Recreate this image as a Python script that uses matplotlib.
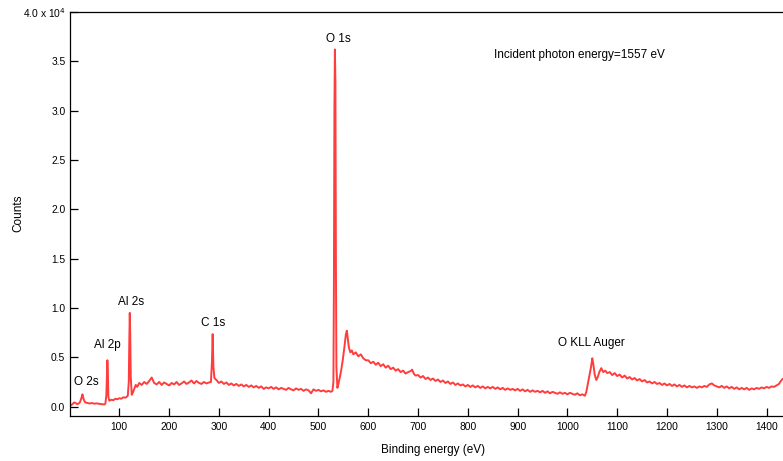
"""
XPS survey spectrum (photon energy 1557 eV): counts vs binding energy,
with the main core levels and the O KLL Auger feature labelled.
"""

import matplotlib.pyplot as plt

plt.rcParams["font.family"] = ["Liberation Sans", "DejaVu Sans"]

LINE_COLOR = "#ff3d3d"

# ---- spectrum, read off the picture region by region -----------------------
# low binding energy: O 2s, Al 2p, Al 2s
low_ev = [0, 3, 6, 9, 12, 15, 18, 21, 24, 26, 28, 31, 35, 40, 45, 50, 55, 60,
          65, 70, 72, 74, 76, 77, 78, 80, 84, 88, 92, 96, 100, 104, 108, 112,
          115, 117, 119, 120, 121, 122, 123, 125, 127, 130, 133, 136, 140, 145,
          150]
low_counts = [50, 150, 250, 420, 380, 260, 300, 450, 900, 1250, 800, 450, 380,
              320, 360, 300, 330, 280, 250, 220, 300, 1200, 4700, 3500, 1000,
              600, 700, 650, 800, 750, 850, 800, 950, 900, 1000, 1100, 2500,
              6500, 9500, 7000, 3000, 1200, 1400, 1800, 2200, 2000, 2400, 2200,
              2500]

# plateau with C 1s
mid_ev = [155, 160, 165, 170, 175, 180, 185, 190, 195, 200, 205, 210, 215, 220,
          225, 230, 235, 240, 245, 250, 255, 260, 265, 270, 275, 280, 284, 286,
          287.5, 289, 291, 295, 300, 305, 310, 315, 320, 325, 330, 335, 340,
          345, 350, 355, 360, 365, 370, 375, 380, 385, 390, 395, 400, 405, 410,
          415, 420, 425, 430, 435, 440, 445, 450, 455, 460, 465, 470, 475, 480,
          485, 490, 495, 500, 505, 510, 515, 520, 525]
mid_counts = [2300, 2600, 2950, 2400, 2250, 2500, 2200, 2450, 2300, 2150, 2400,
              2250, 2500, 2200, 2350, 2550, 2300, 2450, 2650, 2350, 2600, 2400,
              2300, 2500, 2350, 2450, 2500, 4500, 7350, 4000, 2900, 2700, 2400,
              2550, 2300, 2450, 2200, 2350, 2150, 2300, 2100, 2250, 2050, 2200,
              2000, 2150, 1950, 2100, 1900, 2050, 1800, 1950, 1850, 2000, 1800,
              1950, 1750, 1900, 1800, 1700, 1900, 1750, 1650, 1850, 1700, 1800,
              1600, 1750, 1650, 1350, 1750, 1600, 1700, 1550, 1650, 1500, 1600,
              1500]

# O 1s and its loss structure
o1s_ev = [528, 530, 531, 532, 533, 534, 535, 536, 538, 540, 543, 546, 549, 552,
          555, 557, 559, 561, 564, 567, 570, 575, 580, 585, 590, 595]
o1s_counts = [1600, 2500, 12000, 30000, 36200, 33000, 15000, 4000, 1900, 2300,
              3000, 3800, 4800, 6000, 7300, 7700, 6800, 6000, 5500, 5700, 5300,
              5500, 5100, 5300, 4900, 4700]

# slowly decaying inelastic tail
tail_ev = [600, 605, 610, 615, 620, 625, 630, 635, 640, 645, 650, 655, 660, 665,
           670, 675, 680, 685, 688, 692, 695, 700, 705, 710, 715, 720, 725,
           730, 735, 740, 745, 750, 755, 760, 765, 770, 775, 780, 785, 790, 795,
           800, 805, 810, 815, 820, 825, 830, 835, 840, 845, 850, 855, 860, 865,
           870, 875, 880, 885, 890, 895, 900, 905, 910, 915, 920, 925, 930, 935,
           940, 945, 950, 955, 960, 965, 970, 975, 980, 985, 990, 995, 1000,
           1005, 1010, 1015, 1020, 1025, 1030, 1035]
tail_counts = [4700, 4400, 4550, 4250, 4450, 4100, 4300, 3950, 4150, 3800, 3950,
               3650, 3800, 3500, 3650, 3350, 3500, 3600, 3750, 3300, 3150, 3200,
               2950, 3100, 2800, 2950, 2700, 2850, 2600, 2750, 2500, 2650, 2400,
               2550, 2300, 2450, 2200, 2350, 2150, 2250, 2050, 2200, 2000, 2150,
               1950, 2100, 1900, 2050, 1850, 2000, 1850, 2000, 1800, 1950, 1750,
               1900, 1700, 1850, 1700, 1800, 1650, 1800, 1600, 1750, 1550, 1700,
               1500, 1650, 1500, 1600, 1450, 1600, 1400, 1550, 1350, 1500, 1400,
               1300, 1450, 1300, 1400, 1250, 1400, 1300, 1200, 1350, 1150, 1250,
               1100]

# O KLL Auger and high binding energy end
auger_ev = [1038, 1041, 1044, 1047, 1050, 1052, 1055, 1058, 1061, 1064, 1068,
            1072, 1076, 1080, 1085, 1090, 1095, 1100, 1105, 1110, 1115, 1120,
            1125, 1130, 1135, 1140, 1145, 1150, 1155, 1160, 1165, 1170, 1175,
            1180, 1185, 1190, 1195, 1200, 1205, 1210, 1215, 1220, 1225, 1230,
            1235, 1240, 1245, 1250, 1255, 1260, 1265, 1270, 1275, 1280, 1285,
            1290, 1295, 1300, 1305, 1310, 1315, 1320, 1325, 1330, 1335, 1340,
            1345, 1350, 1355, 1360, 1365, 1370, 1375, 1380, 1385, 1390, 1395,
            1400, 1405, 1410, 1415, 1420, 1425, 1428, 1432]
auger_counts = [1500, 2300, 3100, 3900, 4900, 4300, 3200, 2700, 3000, 3500,
                3900, 3500, 3650, 3400, 3500, 3200, 3400, 3100, 3250, 2950,
                3150, 2850, 3000, 2750, 2900, 2650, 2800, 2550, 2700, 2450,
                2550, 2350, 2500, 2300, 2400, 2200, 2350, 2150, 2300, 2100,
                2250, 2050, 2200, 2000, 2150, 1950, 2100, 1950, 2050, 1900,
                2050, 1950, 2100, 2000, 2250, 2350, 2150, 2050, 1950, 2100,
                1900, 2050, 1850, 2000, 1800, 1950, 1750, 1900, 1750, 1900,
                1700, 1850, 1750, 1900, 1800, 1950, 1850, 2000, 1900, 2050,
                2000, 2150, 2300, 2550, 2800]

# ---- axes / labels -----------------------------------------------------------
x_ticks = [100, 200, 300, 400, 500, 600, 700, 800, 900, 1000, 1100, 1200, 1300, 1400]
y_ticks = [0, 5000, 10000, 15000, 20000, 25000, 30000, 35000, 40000]
y_tick_labels = ["0.0", "0.5", "1.0", "1.5", "2.0", "2.5", "3.0", "3.5",
                 r"4.0 x 10$^{4}$"]

peak_labels = ["O 1s", "Al 2s", "Al 2p", "O 2s", "C 1s", "O KLL Auger"]
peak_label_x = [540, 123, 76, 33, 288, 1049]
peak_label_y = [37300, 10650, 6250, 2450, 8450, 6500]

NOTE = "Incident photon energy=1557 eV"


def main():
    energy = low_ev + mid_ev + o1s_ev + tail_ev + auger_ev
    counts = low_counts + mid_counts + o1s_counts + tail_counts + auger_counts

    fig = plt.figure(figsize=(7.83, 4.61), dpi=100)
    ax = fig.add_axes([0.0888, 0.0976, 0.9112, 0.8764])
    ax.plot(energy, counts, color=LINE_COLOR, lw=1.4)

    ax.set_xlim(0, 1433)
    ax.set_ylim(-950, 40000)
    ax.set_xticks(x_ticks)
    ax.set_yticks(y_ticks)
    ax.set_yticklabels(y_tick_labels)
    ax.tick_params(direction="in", length=6, width=0.9, labelsize=7.4,
                   color="black")
    ax.tick_params(axis="x", pad=4)
    ax.tick_params(axis="y", pad=3)
    ax.spines["right"].set_visible(False)
    for side in ("left", "bottom", "top"):
        ax.spines[side].set_linewidth(0.9)

    for text, x, y in zip(peak_labels, peak_label_x, peak_label_y):
        ax.text(x, y, text, ha="center", va="center", fontsize=8.5)
    ax.text(852, 35600, NOTE, ha="left", va="center", fontsize=8.5)

    fig.text(433 / 783, 1 - 450 / 461, "Binding energy (eV)",
             ha="center", va="center", fontsize=8.5)
    fig.text(18.3 / 783, 1 - 213 / 461, "Counts", rotation=90,
             ha="center", va="center", fontsize=8.5)

    fig.savefig("out.png", dpi=100)
    plt.close(fig)


if __name__ == "__main__":
    main()
